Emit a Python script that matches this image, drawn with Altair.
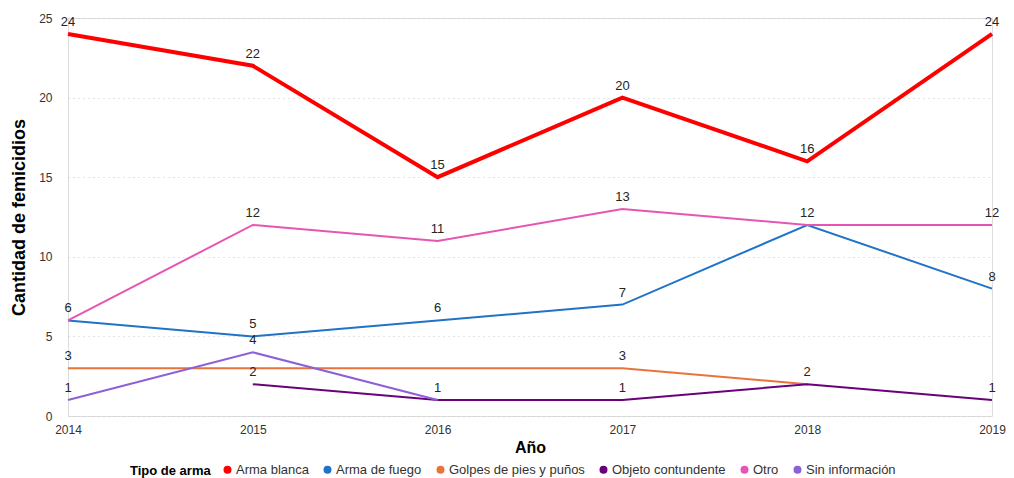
import altair as alt
import pandas as pd

years = [2014, 2015, 2016, 2017, 2018, 2019]
series_names = ["Arma blanca", "Arma de fuego", "Golpes de pies y puños",
                "Objeto contundente", "Otro", "Sin información"]
arma_blanca = [24, 22, 15, 20, 16, 24]
arma_fuego = [6, 5, 6, 7, 12, 8]
golpes = [3, 3, 3, 3, 2, None]
objeto = [None, 2, 1, 1, 2, 1]
otro = [6, 12, 11, 13, 12, 12]
sin_info = [1, 4, 1, None, None, None]
values = [arma_blanca, arma_fuego, golpes, objeto, otro, sin_info]

# which points carry a data label in the original
show_blanca = [1, 1, 1, 1, 1, 1]
show_fuego = [1, 1, 1, 1, 0, 1]
show_golpes = [1, 0, 0, 1, 0, 0]
show_objeto = [0, 1, 1, 1, 1, 1]
show_otro = [0, 1, 1, 1, 1, 1]
show_sin = [1, 1, 0, 0, 0, 0]
shows = [show_blanca, show_fuego, show_golpes, show_objeto, show_otro, show_sin]

colors = ["#FF0000", "#1F74C8", "#E8743B", "#6B007B", "#E655B4", "#8D61D6"]
widths = [4, 2, 2, 2, 2, 2]

rows = []
for name, vals, sh, w in zip(series_names, values, shows, widths):
    for y, v, s in zip(years, vals, sh):
        if v is not None:
            rows.append({"Año": y, "Tipo de arma": name, "Cantidad": v,
                         "show": s, "w": w})
df = pd.DataFrame(rows)

color_scale = alt.Scale(domain=series_names, range=colors)

x = alt.X("Año:Q", scale=alt.Scale(domain=[2014, 2019], nice=False, zero=False),
          axis=alt.Axis(values=years, format="d", title="Año", grid=False,
                        domain=False, ticks=False, labelFontSize=12,
                        labelFlush=False,
                        labelColor="#333333", labelPadding=8,
                        titleFontSize=16, titleFontWeight="bold",
                        titleColor="#000000", titlePadding=4,
                        labelFont="Liberation Sans", titleFont="Liberation Sans"))
y = alt.Y("Cantidad:Q", scale=alt.Scale(domain=[0, 25], nice=False),
          axis=alt.Axis(values=[0, 5, 10, 15, 20, 25], title="Cantidad de femicidios",
                        grid=True, gridDash=[1, 4], gridColor="#C8C8C8",
                        domain=False, ticks=False, labelFontSize=12,
                        labelColor="#333333", labelPadding=16,
                        titleFontSize=18, titleFontWeight="bold",
                        titleColor="#000000", titlePadding=10,
                        labelFont="Liberation Sans", titleFont="Liberation Sans"))

lines = alt.Chart(df).mark_line().encode(
    x=x, y=y,
    color=alt.Color("Tipo de arma:N", scale=color_scale,
                    legend=alt.Legend(orient="none", legendX=62, legendY=445,
                                      direction="horizontal", titleOrient="left",
                                      symbolType="circle", symbolSize=16,
                                      symbolStrokeWidth=4,
                                      labelFontSize=13, labelColor="#333333",
                                      titleFontSize=13, titleColor="#000000",
                                      titleFontWeight="bold", columnPadding=8,
                                      symbolOffset=0, labelOffset=2,
                                      labelFont="Liberation Sans",
                                      titleFont="Liberation Sans",
                                      titlePadding=10)),
    strokeWidth=alt.StrokeWidth("w:Q", scale=None, legend=None),
    detail="Tipo de arma:N",
)

labels = alt.Chart(df).transform_filter("datum.show == 1").mark_text(
    dy=-12, fontSize=13, color="#252423", font="Liberation Sans"
).encode(x="Año:Q", y="Cantidad:Q", text="Cantidad:Q")

chart = (lines + labels).properties(
    width=924, height=398,
    padding={"left": 2, "top": 4, "right": 0, "bottom": 0},
).configure_view(stroke=None).configure(background="white")

chart.save("out.html", embed_options={"renderer": "svg", "actions": False})
